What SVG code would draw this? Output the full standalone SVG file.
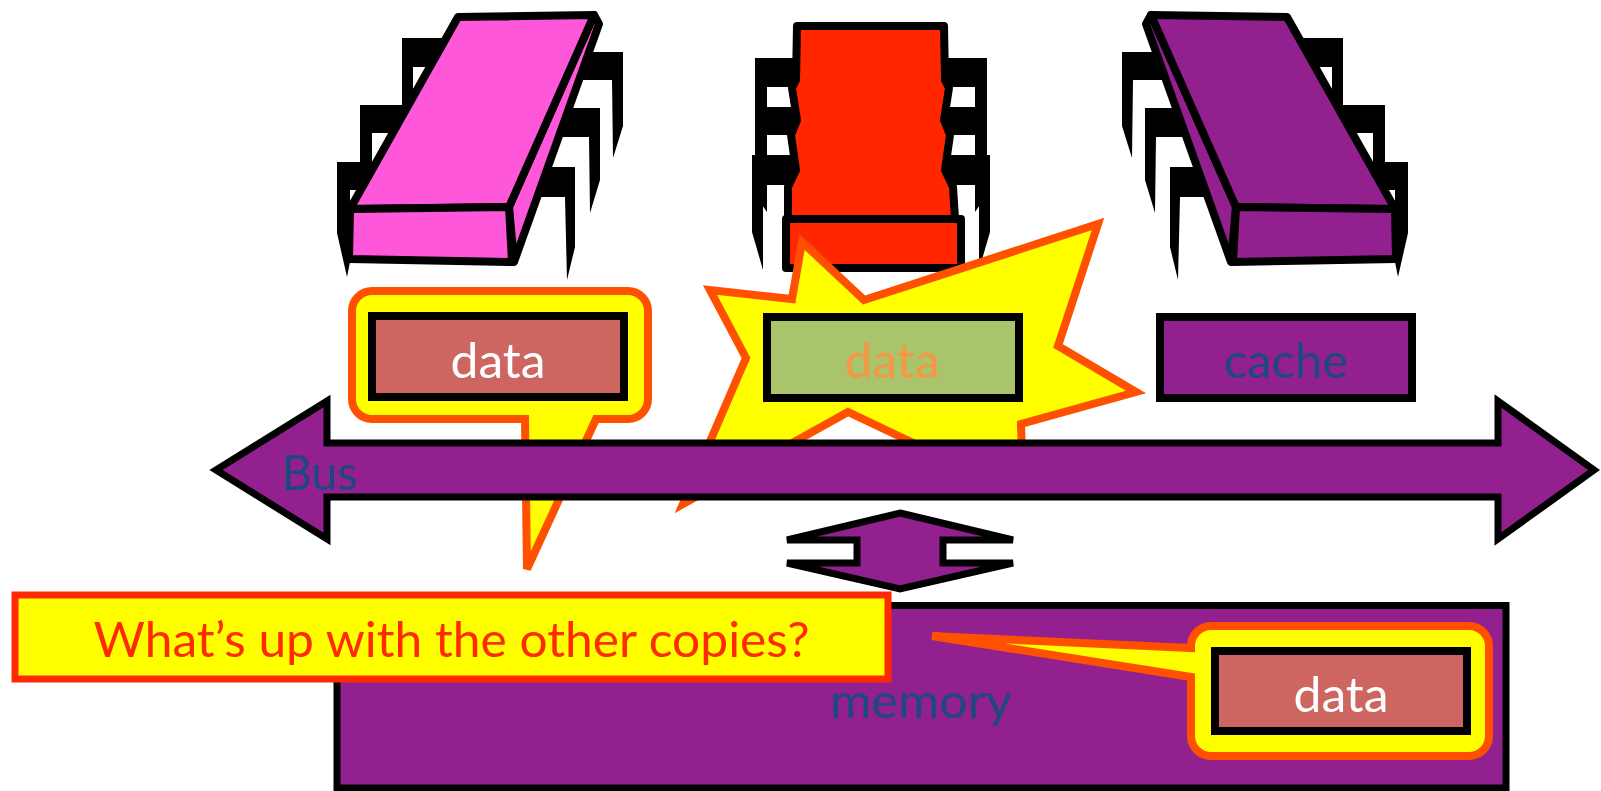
<svg xmlns="http://www.w3.org/2000/svg" width="1601" height="791" viewBox="0 0 1601 791">
<style>
  .leg{fill:#000}
  .face{stroke:#000;stroke-width:8;stroke-linejoin:round}
  .box{stroke:#000;stroke-width:8}
  .callout{fill:#FFFF00;stroke:#FF5000;stroke-width:8;stroke-linejoin:miter}
  .lbl{font-family:Lato,'Liberation Sans',sans-serif;font-size:48px;text-anchor:middle}
  .shape{fill:#92208F;stroke:#000;stroke-width:7}
  .dark{fill:#1F497D}
</style>
<defs>
  <!-- slanted DIP chip seen from above, with its six pins -->
  <g id="tiltChip">
    <polygon class="leg" points="560,52 623,52 623,126 613,158 612,80 560,80"/>
    <polygon class="leg" points="540,108 600,108 600,180 590,213 589,137 540,137"/>
    <polygon class="leg" points="510,167 575,167 575,247 567,280 565,197 510,197"/>
    <polygon class="leg" points="402,38 470,38 470,67 413,67 413,160 402,160"/>
    <polygon class="leg" points="360,105 430,105 430,133 372,133 372,230 360,230"/>
    <polygon class="leg" points="337,162 400,162 400,190 350,190 350,262 347,277 337,233"/>
    <polygon class="face" points="594,15 599,24 514,262 509,207"/>
    <polygon class="face" points="458,17 594,15 509,207 350,209"/>
    <polygon class="face" points="350,209 509,207 512,262 349,259"/>
  </g>
  <!-- one column of pins for the front-facing chip -->
  <g id="sideLegs">
    <polygon class="leg" points="755,58 810,58 810,87 767,87 767,110 755,110"/>
    <polygon class="leg" points="755,107 810,107 810,135 767,135 767,212 755,195"/>
    <polygon class="leg" points="752,155 810,155 810,185 763,185 763,270 752,232"/>
  </g>
</defs>

<rect width="1601" height="791" fill="#fff"/>

<g id="cpu-left">
  <use href="#tiltChip" fill="#FF57D9"/>
</g>

<g id="cpu-middle">
  <use href="#sideLegs"/>
  <use href="#sideLegs" transform="matrix(-1 0 0 1 1742 0)"/>
  <polygon class="face" fill="#FF2600" points="797,26 944,26 945,80 949,88 944,120 950,135 945,170 953,187 955,219 788,219 788,187 796,170 791,135 797,120 792,88 796,80"/>
  <rect class="face" fill="#FF2600" x="786" y="219" width="175" height="49"/>
</g>

<g id="cpu-right">
  <use href="#tiltChip" fill="#92208F" transform="matrix(-1 0 0 1 1745 0)"/>
</g>

<g id="cache-left">
  <path class="callout" d="M372,291 H628 A20,20 0 0 1 648,311 V399 A20,20 0 0 1 628,419 H596 L527,569 L525,419 H372 A20,20 0 0 1 352,399 V311 A20,20 0 0 1 372,291 Z"/>
  <rect class="box" fill="#CD6660" x="372" y="316" width="252" height="81"/>
  <text class="lbl" x="498" y="378" fill="#fff" textLength="95" lengthAdjust="spacingAndGlyphs">data</text>
</g>

<g id="cache-middle">
  <polygon class="callout" stroke-width="7" stroke-linejoin="round" points="802,242 864,300 1098,224 1058,346 1136,392 1021,424 1022,455 945,458 848,412 683,504 746,358 710,290 792,299"/>
  <rect class="box" fill="#AAC46B" x="767" y="317" width="252" height="81"/>
  <text class="lbl" x="892" y="378" fill="#F79646" textLength="95" lengthAdjust="spacingAndGlyphs">data</text>
</g>

<g id="cache-right">
  <rect class="box" fill="#92208F" x="1160" y="317" width="252" height="81"/>
  <text class="lbl dark" x="1286" y="378" textLength="124" lengthAdjust="spacingAndGlyphs">cache</text>
</g>

<g id="connectors">
  <g id="bus">
    <polygon class="shape" stroke-linejoin="miter" points="216,470 327,401 327,443 1498,443 1498,401 1594,470 1498,539 1498,497 327,497 327,539"/>
    <text class="lbl dark" x="281" y="490" style="text-anchor:start" textLength="76" lengthAdjust="spacingAndGlyphs">Bus</text>
  </g>
  <polygon id="bus-memory-link" class="shape" points="900,513 1013,540 943,540 943,563 1013,563 900,589 787,563 857,563 857,540 787,540"/>
</g>

<g id="memory">
  <rect class="shape" x="337" y="605.5" width="1169" height="182.5"/>
  <text class="lbl dark" x="921" y="718" textLength="182" lengthAdjust="spacingAndGlyphs">memory</text>
</g>

<g id="memory-data">
  <path class="callout" d="M1211,626 H1469 A20,20 0 0 1 1489,646 V736 A20,20 0 0 1 1469,756 H1211 A20,20 0 0 1 1191,736 V677 L932,636 L1191,648 V646 A20,20 0 0 1 1211,626 Z"/>
  <rect class="box" fill="#CD6660" x="1215" y="651" width="252" height="80"/>
  <text class="lbl" x="1341" y="712" fill="#fff" textLength="95" lengthAdjust="spacingAndGlyphs">data</text>
</g>

<g id="question">
  <rect x="15" y="595" width="873" height="84" fill="#FFFF00" stroke="#FF2A00" stroke-width="7"/>
  <text class="lbl" x="451.5" y="657" fill="#FF2A00" textLength="716" lengthAdjust="spacingAndGlyphs">What’s up with the other copies?</text>
</g>
</svg>
